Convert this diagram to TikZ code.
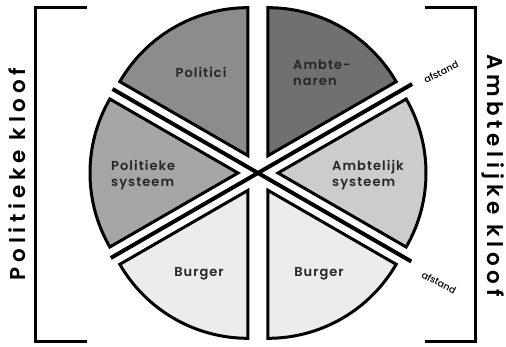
\documentclass[tikz,border=0pt]{standalone}
\usepackage{fontspec}
\setmainfont{Poppins SemiBold}[LetterSpace=8]
\newfontfamily\sidefont{Poppins SemiBold}[LetterSpace=22]
\newfontfamily\smallfont{Poppins Medium}
\definecolor{cPolitici}{RGB}{140,140,140}
\definecolor{cAmbtenaren}{RGB}{112,112,112}
\definecolor{cPolSys}{RGB}{168,165,168}
\definecolor{cAmbSys}{RGB}{204,204,204}
\definecolor{cBurger}{RGB}{236,236,236}
\tikzset{
  sector/.style={draw=black, line width=3pt, line join=miter},
  gapline/.style={draw=black, line width=4pt},
  bracket/.style={draw=black, line width=3pt},
  lbl/.style={font=\fontsize{13}{16}\selectfont, text=black!85, inner sep=0pt, align=left},
  sidelbl/.style={font=\sidefont\fontsize{21.5}{24}\selectfont, inner sep=0pt},
  smalllbl/.style={font=\smallfont\fontsize{9.5}{10}\selectfont, inner sep=0pt}
}
\newcommand{\sectorpath}[2]{%
  \path[sector, fill=#2] (#1:20) -- ++(#1-30:148) arc[start angle=#1-30, end angle=#1+30, radius=148] -- cycle;}
\begin{document}
\begin{tikzpicture}[x=1pt,y=1pt]
\useasboundingbox (-258,-174) rectangle (248,173);
\sectorpath{120}{cPolitici}
\sectorpath{60}{cAmbtenaren}
\sectorpath{0}{cAmbSys}
\sectorpath{-60}{cBurger}
\sectorpath{-120}{cBurger}
\sectorpath{180}{cPolSys}
% afstand lines
\coordinate (a1) at (210:170);
\coordinate (b1) at (30:178);
\coordinate (a2) at (150:168);
\coordinate (b2) at (-30:177);
\draw[gapline] (a1) -- (b1);
\draw[gapline] (a2) -- (b2);
% labels
\node[lbl] (politici) at (-57,101) {Politici};
\node[lbl, anchor=west] (ambtenaren) at (35,100) {Ambte-\\naren};
\node[lbl, anchor=west] (polsys) at (-147,-2) {Politieke\\systeem};
\node[lbl, anchor=west] (ambsys) at (74,-2) {Ambtelijk\\systeem};
\node[lbl] (burgerL) at (-59,-101) {Burger};
\node[lbl] (burgerR) at (61,-101) {Burger};
\node[smalllbl, rotate=27] (afst1) at (183,101) {afstand};
\node[smalllbl, rotate=-27] (afst2) at (181,-109.5) {afstand};
% brackets
\coordinate (lb1) at (-171,165.7);
\coordinate (lb2) at (-222.3,165.7);
\coordinate (lb3) at (-222.3,-169);
\coordinate (lb4) at (-171,-169);
\draw[bracket] (lb1) -- (lb2) -- (lb3) -- (lb4);
\coordinate (rb1) at (167,165.7);
\coordinate (rb2) at (217,165.7);
\coordinate (rb3) at (217,-169);
\coordinate (rb4) at (167,-169);
\draw[bracket] (rb1) -- (rb2) -- (rb3) -- (rb4);
\node[sidelbl, rotate=90] (polkloof) at (-241,-1) {Politieke kloof};
\node[sidelbl, rotate=-90] (ambkloof) at (235,-2.5) {Ambtelijke kloof};
\end{tikzpicture}
\end{document}
